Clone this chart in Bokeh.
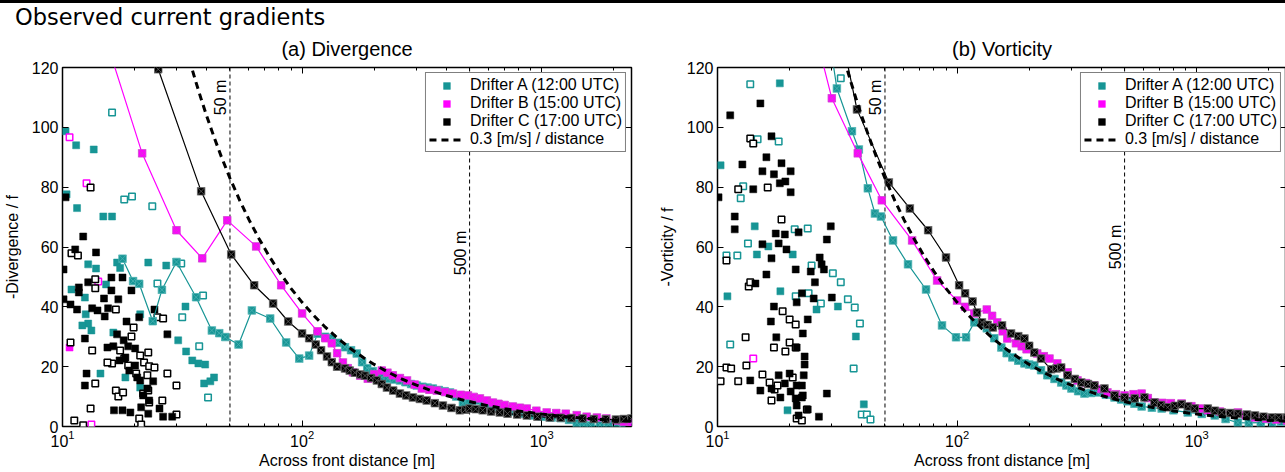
import math
from bokeh.plotting import figure
from bokeh.models import (Span, Legend, LegendItem, LogAxis, LinearAxis,
                          FixedTicker, Div, Label)
from bokeh.layouts import column, row
from bokeh.embed import file_html
from bokeh.resources import INLINE

# ---------------- data ----------------
SPEED = 0.3          # m/s
CORIOLIS_F = 7.23e-5  # 1/s

ref_dist = [30, 32, 34, 36, 38, 40, 43, 46, 50, 55, 60, 66, 73, 80, 90, 100, 112, 125,
            140, 160, 180, 200, 230, 260, 300, 350, 400, 460, 530, 600, 700, 800, 1000,
            1200, 1500, 1800, 2100, 2400]

# ---- (a) Divergence ----
div_A_filled = [(10.3, 98.7), (11.4, 94.0), (13.5, 92.6), (10.4, 77.6), (11.5, 73.0), (14.8, 70.2),
                (16.1, 70.2), (16.9, 54.8), (17.4, 53.0), (12.8, 54.2), (13.8, 52.8), (22.8, 54.8),
                (27.1, 53.8), (10.9, 45.8), (12.4, 43.1), (15.2, 47.5), (12.8, 34.4), (12.5, 37.5),
                (12.1, 33.8), (13.2, 32.1), (14.4, 17.7), (21.1, 37.5), (30.4, 28.8), (32.6, 40.1),
                (32.8, 25.1), (34.8, 22.1), (36.9, 21.1), (39.4, 20.7), (39.0, 14.4), (41.4, 15.1),
                (42.9, 16.4), (18.3, 16.4), (21.1, 13.0), (16.3, 31.4)]
div_A_open = [(16.1, 105.0), (18.1, 75.9), (19.5, 76.9), (23.7, 73.6), (24.9, 47.8), (31.3, 54.5),
              (31.6, 36.5), (38.6, 43.8), (37.2, 26.8), (40.5, 9.7)]
div_B_filled = [(10.7, 26.4)]
div_B_open = [(10.7, 96.7), (12.6, 81.3), (14.1, 48.5), (13.2, 0.7)]
div_C_filled = [(10.3, 76.6), (10.1, 52.5), (10.1, 42.5), (10.8, 40.8), (12.2, 63.5), (11.3, 59.2),
                (11.7, 46.5), (11.7, 44.8), (11.5, 39.1), (12.8, 48.2), (13.8, 58.2), (13.3, 39.5),
                (14.0, 38.8), (14.9, 42.8), (15.5, 39.5), (15.0, 36.8), (16.0, 45.5), (16.0, 49.8),
                (17.1, 42.5), (17.8, 49.8), (19.4, 45.5), (18.5, 35.1), (20.9, 36.5), (24.2, 39.1),
                (27.4, 30.8), (12.4, 29.4), (15.4, 26.4), (16.3, 26.8), (16.9, 30.8), (18.0, 28.8),
                (18.8, 26.8), (20.1, 26.1), (18.3, 23.1), (17.3, 22.1), (19.0, 18.7), (20.1, 20.4),
                (20.5, 16.4), (21.1, 15.4), (22.6, 12.7), (23.9, 15.1), (16.4, 5.4), (17.8, 5.4),
                (19.2, 4.7), (21.3, 6.4), (22.8, 4.3), (25.4, 6.0), (26.3, 3.3), (28.7, 3.3),
                (12.6, 17.7), (12.4, 13.7), (21.7, 10.4), (23.0, 8.7)]
div_C_open = [(10.9, 57.9), (11.6, 57.2), (13.1, 79.9), (13.7, 49.2), (13.7, 46.2), (16.7, 39.1),
              (13.3, 25.4), (16.1, 21.1), (15.4, 21.4), (17.4, 25.4), (18.1, 22.7), (18.8, 20.4),
              (19.8, 33.1), (19.4, 30.1), (20.3, 17.7), (21.1, 23.7), (21.9, 21.4), (22.8, 24.7),
              (23.0, 20.1), (24.2, 19.7), (22.6, 17.1), (21.7, 11.0), (22.8, 12.0), (23.0, 8.0),
              (16.7, 12.0), (17.1, 10.0), (17.9, 11.4), (13.7, 14.4), (13.1, 6.0), (11.2, 2.0),
              (12.2, 0.4), (10.8, 28.1), (20.9, 2.7), (21.3, 0.7), (26.1, 8.7), (27.4, 17.7),
              (29.9, 13.7), (29.9, 4.0), (24.9, 36.5), (26.3, 36.1)]

div_A_line = [(17.8, 56.1), (19.7, 48.6), (20.9, 47.7), (23.8, 35.2), (26.0, 45.7), (29.9, 55.0),
              (36.1, 43.2), (42.0, 32.1), (45.1, 31.2), (47.8, 29.9), (54.3, 27.4), (61.7, 38.8),
              (73.6, 36.1), (85.8, 28.1), (97.3, 22.7), (107, 23.7), (116, 31.0), (125, 30.0),
              (133, 29.5), (141, 28.0), (151, 26.5), (160, 25.5), (169, 24.4), (178, 21.5),
              (187, 19.5), (197, 18.5), (206, 17.5), (215, 16.5), (228, 16.0), (242, 15.7),
              (256, 15.4), (270, 14.8), (285, 14.2), (301, 13.7), (318, 13.3), (334, 13.0),
              (351, 12.7), (372, 12.2), (393, 11.8), (414, 11.4), (440, 10.0), (469, 7.7),
              (500, 8.5), (537, 8.7), (570, 7.8), (610, 7.0), (650, 6.5), (700, 5.8), (760, 5.0),
              (830, 4.3), (917, 3.7), (1000, 3.3), (1100, 3.0), (1200, 2.8), (1300, 2.2),
              (1400, 1.2), (1500, 0.4), (1600, 0.3), (1750, 0.5), (1900, 0.8), (2050, 1.0),
              (2200, 1.2), (2370, 1.0)]
div_B_line = [(15.8, 125.0), (21.5, 91.3), (29.9, 65.6), (38.3, 56.2), (48.7, 68.9), (64.3, 60.2),
              (81.8, 47.2), (100, 37.8), (116, 31.8), (125, 29.5), (133, 27.8), (140, 24.5),
              (148, 21.4), (155, 19.5), (163, 18.1), (175, 17.0), (188, 16.0), (200, 17.5),
              (215, 18.7), (227, 18.0), (239, 17.1), (256, 16.2), (274, 15.4), (295, 14.0),
              (316, 12.7), (340, 12.3), (365, 12.0), (395, 11.5), (426, 11.0), (460, 10.6),
              (492, 10.4), (520, 9.9), (552, 9.4), (590, 8.7), (625, 8.0), (660, 7.6), (700, 7.2),
              (757, 6.7), (810, 6.3), (866, 6.0), (950, 5.3), (1049, 4.7), (1150, 4.5),
              (1260, 4.3), (1400, 3.8), (1540, 3.3), (1700, 3.0), (1862, 2.7), (2050, 2.0),
              (2200, 1.6), (2370, 1.3)]
div_C_line = [(25.1, 119.4), (37.9, 78.6), (50.6, 57.5), (63.1, 47.2), (75.7, 41.1), (87.5, 35.1),
              (100, 31.1), (107, 29.5), (114, 27.4), (120, 25.5), (127, 23.4), (133, 21.5),
              (140, 20.0), (151, 19.4), (158, 18.7), (166, 18.0), (175, 17.4), (183, 17.0),
              (194, 16.2), (205, 15.4), (215, 14.2), (226, 13.0), (240, 12.0), (256, 11.0),
              (272, 10.4), (290, 9.7), (310, 9.2), (331, 8.7), (358, 7.8), (387, 7.0), (420, 6.2),
              (455, 5.4), (480, 5.6), (500, 6.0), (530, 5.8), (567, 5.4), (615, 5.0), (668, 4.7),
              (720, 4.3), (790, 4.0), (866, 3.7), (960, 3.3), (1080, 3.0), (1200, 2.9),
              (1330, 2.8), (1480, 2.7), (1650, 2.5), (1850, 2.4), (2040, 2.3), (2200, 2.5),
              (2370, 2.7)]

# ---- (b) Vorticity ----
vor_A_filled = [(10.3, 87.3), (11.0, 43.5), (18.2, 114.7), (14.3, 66.9), (14.6, 57.5), (16.3, 60.2),
                (18.3, 45.2), (20.6, 57.5), (19.6, 5.4), (25.9, 39.1), (31.8, 40.1), (37.8, 30.1),
                (40.8, 7.4)]
vor_A_open = [(13.7, 114.4), (14.7, 96.0), (18.0, 95.3), (12.8, 80.3), (12.5, 76.3), (10.9, 57.2),
              (12.1, 57.2), (13.4, 61.2), (11.3, 27.4), (21.0, 65.9), (23.8, 66.2), (21.2, 43.5),
              (24.0, 44.5), (24.7, 53.8), (27.0, 41.1), (30.3, 51.2), (32.7, 48.2), (35.0, 42.5),
              (37.4, 39.8), (39.3, 34.4), (37.0, 19.4), (40.0, 4.0), (42.0, 4.0), (43.5, 2.3),
              (32.7, 116.4)]
vor_B_filled = []
vor_B_open = [(14.1, 22.7)]
vor_C_filled = [(10.1, 76.6), (11.3, 104.0), (15.1, 108.0), (11.8, 70.2), (11.8, 65.9), (12.7, 87.6),
                (16.8, 97.0), (16.0, 90.0), (15.4, 85.3), (17.2, 84.3), (18.5, 88.0), (19.2, 81.9),
                (20.2, 85.3), (20.2, 78.3), (18.2, 81.3), (14.1, 79.3), (17.5, 64.5), (19.1, 64.2),
                (21.8, 64.9), (29.7, 66.9), (28.6, 62.5), (19.4, 59.2), (18.0, 61.2), (15.4, 60.9),
                (16.8, 56.2), (16.0, 50.8), (14.4, 47.8), (21.2, 52.5), (22.5, 44.5), (17.2, 40.1),
                (21.4, 41.5), (24.5, 51.8), (25.5, 48.2), (26.7, 56.5), (27.2, 54.2), (27.8, 52.5),
                (30.0, 43.1), (25.2, 42.8), (16.7, 35.1), (17.6, 29.8), (23.8, 35.8), (22.7, 31.1),
                (21.4, 26.4), (23.1, 23.4), (23.1, 20.7), (13.7, 15.4), (15.1, 12.0), (16.8, 12.7),
                (18.0, 17.1), (19.1, 14.4), (20.0, 17.7), (20.2, 11.7), (21.4, 13.7), (22.5, 13.7),
                (22.5, 9.7), (21.4, 7.0), (21.8, 3.7), (22.7, 10.4), (21.2, 9.4), (18.3, 9.7),
                (26.5, 3.3), (28.6, 11.0), (22.9, 17.1), (23.8, 5.7)]
vor_C_open = [(10.3, 15.1), (10.9, 19.7), (11.4, 19.4), (12.2, 15.1), (10.9, 55.5), (12.2, 79.3),
              (13.7, 96.3), (14.1, 94.6), (16.2, 79.9), (13.5, 46.8), (13.7, 48.2), (13.1, 29.8),
              (13.2, 20.4), (15.4, 17.4), (16.5, 14.7), (16.8, 8.7), (17.3, 12.4), (17.8, 13.7),
              (17.2, 26.4), (19.2, 25.1), (20.0, 28.1), (18.5, 69.2), (18.7, 38.5), (20.0, 35.8),
              (21.2, 34.1), (21.2, 26.4), (21.4, 2.7), (22.5, 2.0), (23.6, 5.7), (20.6, 16.4)]

vor_A_line = [(29.0, 132.0), (31.5, 113.0), (36.4, 98.7), (38.9, 92.6), (42.4, 79.6), (45.4, 71.2),
              (48.1, 70.2), (54.0, 62.2), (62.4, 54.2), (74.2, 45.8), (86.5, 33.8), (99, 29.8),
              (109, 29.8), (118, 34.8), (133, 32.8), (143, 29.5), (153, 26.4), (161, 24.5),
              (170, 23.1), (180, 22.0), (191, 21.1), (200, 20.7), (210, 20.4), (224, 18.8),
              (238, 17.1), (255, 15.9), (272, 14.7), (286, 13.7), (300, 12.7), (320, 11.8),
              (340, 11.0), (362, 11.2), (385, 11.4), (418, 10.6), (454, 9.7), (484, 9.0),
              (514, 8.4), (550, 7.6), (589, 6.7), (650, 6.3), (714, 6.0), (800, 5.4), (917, 4.7),
              (1050, 4.2), (1189, 3.7), (1320, 2.5), (1486, 1.3), (1650, 1.2), (1850, 1.3),
              (2061, 1.3), (2250, 1.6), (2380, 2.0)]
vor_B_line = [(25.5, 132.0), (30.0, 109.7), (38.5, 91.3), (48.5, 75.6), (64.9, 62.2), (82.5, 48.8),
              (100, 42.1), (108, 40.0), (118, 37.8), (133, 39.1), (140, 37.0), (147, 34.8),
              (155, 31.8), (162, 29.4), (176, 27.8), (186, 26.8), (195, 25.8), (216, 24.4),
              (230, 23.5), (243, 22.7), (262, 21.1), (289, 18.1), (318, 15.4), (345, 14.5),
              (374, 13.7), (400, 12.5), (424, 11.4), (460, 10.8), (500, 10.4), (545, 10.8),
              (589, 11.0), (625, 9.5), (667, 8.0), (720, 7.9), (780, 7.8), (865, 7.7), (950, 6.8),
              (1030, 6.0), (1112, 5.4), (1250, 5.0), (1486, 4.7), (1600, 3.8), (1750, 3.0),
              (1950, 2.6), (2150, 2.3), (2380, 2.0)]
vor_C_line = [(33.5, 128.0), (38.2, 106.0), (51.9, 81.6), (63.5, 72.9), (75.7, 65.6), (89.9, 56.5),
              (102, 47.2), (108, 44.5), (116, 41.8), (121, 38.1), (127, 34.8), (134, 34.0),
              (141, 33.1), (154, 33.8), (168, 31.1), (180, 30.2), (191, 29.4), (200, 27.0),
              (210, 24.7), (224, 22.7), (247, 19.1), (260, 19.4), (272, 19.7), (289, 17.1),
              (310, 15.9), (330, 14.7), (352, 14.2), (374, 13.7), (412, 12.7), (454, 10.4),
              (500, 9.7), (551, 9.4), (605, 9.7), (667, 8.0), (710, 7.2), (756, 6.4), (810, 6.9),
              (865, 7.4), (920, 6.7), (981, 6.0), (1112, 6.0), (1190, 5.3), (1273, 4.7),
              (1380, 4.5), (1486, 4.3), (1620, 4.0), (1750, 3.7), (1900, 3.3), (2061, 3.0),
              (2200, 3.0), (2380, 3.0)]

legend_labels = ["Drifter A (12:00 UTC)", "Drifter B (15:00 UTC)", "Drifter C (17:00 UTC)",
                 "0.3 [m/s] / distance"]
marker_lines = [50, 500]
marker_line_labels = ["50 m", "500 m"]
y_ticks = [0, 20, 40, 60, 80, 100, 120]
x_ticks = [10, 100, 1000]
x_minor = [20, 30, 40, 50, 60, 70, 80, 90, 200, 300, 400, 500, 600, 700, 800, 900, 2000]

# ---------------- styling ----------------
TEAL = "#179595"
MAG = "#ff00ff"
BLK = "#000000"
EDGE = {TEAL: "#4cb3b3", MAG: "#d040d0", BLK: "#666666"}
FONT = "Liberation Sans"
FW, FH = 569, 359


def xy(pts):
    return [a for a, b in pts], [b for a, b in pts]


def make_panel(title, ylabel, series, min_left, min_right, label_y):
    p = figure(x_axis_type="log", x_range=(10, 2370), y_range=(0, 120),
               frame_width=FW, frame_height=FH, output_backend="svg", toolbar_location=None,
               min_border_left=min_left, min_border_right=min_right,
               min_border_top=37, min_border_bottom=0)
    p.background_fill_color = "white"
    p.border_fill_color = "white"
    p.outline_line_color = "black"
    p.outline_line_width = 1.5
    p.grid.visible = False

    p.title.text = title
    p.title.align = "center"
    p.title.vertical_align = "top"
    p.title.text_font = FONT
    p.title.text_font_size = "20px"
    p.title.text_font_style = "normal"
    p.title.text_color = "black"
    p.title.standoff = 11

    xa = p.below[0]
    xa.ticker = FixedTicker(ticks=x_ticks, minor_ticks=x_minor)
    xa.axis_label = "Across front distance [m]"
    xa.axis_label_text_font = FONT
    xa.axis_label_text_font_size = "16px"
    xa.axis_label_text_font_style = "normal"
    xa.axis_label_text_color = "black"
    xa.axis_label_standoff = 2
    xa.major_label_text_font = FONT
    xa.major_label_text_font_size = "16px"
    xa.major_label_text_color = "black"
    xa.major_label_standoff = 3
    xa.axis_line_color = None
    xa.major_tick_in, xa.major_tick_out = 6, 0
    xa.minor_tick_in, xa.minor_tick_out = 3, 0

    ya = p.left[0]
    ya.ticker = FixedTicker(ticks=y_ticks)
    ya.axis_label = ylabel
    ya.axis_label_text_font = FONT
    ya.axis_label_text_font_size = "16px"
    ya.axis_label_text_font_style = "normal"
    ya.axis_label_text_color = "black"
    ya.axis_label_standoff = 8
    ya.major_label_text_font = FONT
    ya.major_label_text_font_size = "16px"
    ya.major_label_text_color = "black"
    ya.major_label_standoff = 4
    ya.axis_line_color = None
    ya.major_tick_in, ya.major_tick_out = 6, 0
    ya.minor_tick_line_color = None

    top = LogAxis(ticker=FixedTicker(ticks=x_ticks, minor_ticks=x_minor),
                  major_label_text_font_size="1px", major_label_text_alpha=0,
                  major_label_standoff=0,
                  axis_line_color=None, major_tick_in=6, major_tick_out=0,
                  minor_tick_in=3, minor_tick_out=0)
    p.add_layout(top, "above")
    right = LinearAxis(ticker=FixedTicker(ticks=y_ticks),
                       major_label_text_font_size="1px", major_label_text_alpha=0,
                       major_label_standoff=0,
                       axis_line_color=None, major_tick_in=6, major_tick_out=0,
                       minor_tick_line_color=None)
    p.add_layout(right, "right")

    for loc, lab, ly in zip(marker_lines, marker_line_labels, label_y):
        p.add_layout(Span(location=loc, dimension="height", line_color="black",
                          line_width=1, line_dash="4 3", level="underlay"))
        p.add_layout(Label(x=loc, y=ly, text=lab, angle=math.pi / 2, text_align="center",
                           text_baseline="bottom", x_offset=-1, text_font=FONT,
                           text_font_size="16px", text_color="black"))

    legend_renderers = []
    for color, filled, opened, line in series:
        if opened:
            xs, ys = xy(opened)
            p.scatter(xs, ys, marker="square", size=6.5, fill_color="white",
                      line_color=color, line_width=1.5)
        pts = filled if filled else [(5.0, -50.0)]
        xs, ys = xy(pts)
        r = p.scatter(xs, ys, marker="square", size=7, fill_color=color,
                      line_color=color, line_width=0.5)
        legend_renderers.append(r)
    for color, filled, opened, line in series:
        xs, ys = xy(line)
        p.line(xs, ys, line_color=color, line_width=1.2)
        p.scatter(xs, ys, marker="square_x", size=7.5, fill_color=color,
                  line_color=EDGE[color], line_width=0.8)

    ref_vals = [SPEED / CORIOLIS_F / d for d in ref_dist]
    ref_r = p.line(ref_dist, ref_vals, line_color="black", line_width=3, line_dash="7 5")

    items = [LegendItem(label=lab, renderers=[r])
             for r, lab in zip(legend_renderers, legend_labels[:3])]
    items.append(LegendItem(label=legend_labels[3], renderers=[ref_r]))
    leg = Legend(items=items, location="top_right", margin=5, padding=3, spacing=0,
                 label_text_font=FONT, label_text_font_size="16px", label_text_color="black",
                 label_height=17, glyph_height=17, glyph_width=35, label_standoff=6,
                 border_line_color="black", border_line_width=1.5,
                 background_fill_alpha=1.0)
    p.add_layout(leg)
    return p


p1 = make_panel("(a) Divergence", "-Divergence / f",
                [(TEAL, div_A_filled, div_A_open, div_A_line),
                 (MAG, div_B_filled, div_B_open, div_B_line),
                 (BLK, div_C_filled, div_C_open, div_C_line)],
                62, 24, [110, 58])
p2 = make_panel("(b) Vorticity", "-Vorticity / f",
                [(TEAL, vor_A_filled, vor_A_open, vor_A_line),
                 (MAG, vor_B_filled, vor_B_open, vor_B_line),
                 (BLK, vor_C_filled, vor_C_open, vor_C_line)],
                56, 0, [110, 60])

header = Div(text='<div style="width:1285px;border-top:3px solid black;'
                  'font-family:\'DejaVu Sans\';font-size:22.5px;line-height:26px;'
                  'padding-left:15px;padding-top:1px;color:black;box-sizing:border-box;">'
                  'Observed current gradients</div>',
             width=1285, height=30, margin=(0, 0, 0, 0))

layout = column(header, row(p1, p2, spacing=0), spacing=0)
open("out.html", "w").write(file_html(layout, INLINE))
